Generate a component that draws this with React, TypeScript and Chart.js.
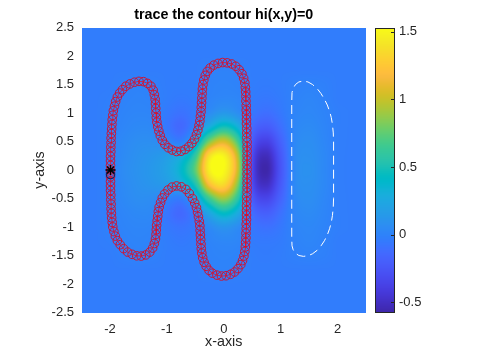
import React, { useEffect, useRef } from 'react';
import { Chart, registerables } from 'chart.js';

Chart.register(...registerables);

// ---------- data ----------
const heatX = [-2.5, -2.25, -2, -1.75, -1.5, -1.25, -1, -0.75, -0.5, -0.25, 0, 0.25, 0.5, 0.75, 1, 1.25, 1.5, 1.75, 2, 2.25, 2.5];
const heatY = [2.5, 2.25, 2, 1.75, 1.5, 1.25, 1, 0.75, 0.5, 0.25, 0, -0.25, -0.5, -0.75, -1, -1.25, -1.5, -1.75, -2, -2.25, -2.5];
const heatZ = [
  [-0.03, -0.03, -0.03, -0.03, -0.03, -0.03, -0.03, -0.03, -0.03, -0.03, -0.03, -0.03, -0.03, -0.03, -0.03, -0.03, -0.03, -0.03, -0.03, -0.03, -0.03],
  [-0.03, -0.03, -0.03, -0.03, -0.03, -0.03, -0.03, -0.03, -0.03, -0.03, -0.03, -0.03, -0.03, -0.03, -0.03, -0.03, -0.03, -0.03, -0.03, -0.03, -0.03],
  [-0.03, -0.03, -0.03, -0.03, -0.03, -0.03, -0.03, -0.03, -0.03, -0.03, -0.03, -0.03, -0.03, -0.03, -0.03, -0.03, -0.03, -0.03, -0.03, -0.03, -0.03],
  [-0.03, -0.03, -0.03, -0.03, -0.03, -0.03, -0.03, -0.03, -0.03, -0.01, 0.0, -0.01, -0.03, -0.03, -0.03, -0.03, -0.03, -0.03, -0.03, -0.03, -0.03],
  [-0.03, -0.03, -0.03, -0.01, 0.0, -0.01, -0.03, -0.03, -0.03, 0.0, 0.01, 0.0, -0.03, -0.04, -0.03, -0.01, 0.0, -0.01, -0.03, -0.03, -0.03],
  [-0.03, -0.03, -0.02, 0.0, 0.01, 0.0, -0.03, -0.05, -0.03, 0.01, 0.03, 0.02, -0.04, -0.06, -0.04, 0.0, 0.02, 0.0, -0.03, -0.03, -0.03],
  [-0.03, -0.03, -0.01, 0.01, 0.02, 0.01, -0.05, -0.09, -0.04, 0.06, 0.14, 0.07, -0.06, -0.11, -0.06, 0.01, 0.03, 0.01, -0.02, -0.03, -0.03],
  [-0.03, -0.03, -0.01, 0.02, 0.04, 0.03, -0.06, -0.14, 0.02, 0.3, 0.5, 0.32, -0.12, -0.22, -0.11, 0.02, 0.05, 0.02, -0.02, -0.03, -0.03],
  [-0.03, -0.03, 0.0, 0.04, 0.07, 0.07, 0.03, -0.02, 0.25, 0.82, 1.05, 0.66, -0.2, -0.38, -0.18, 0.03, 0.07, 0.03, -0.02, -0.03, -0.03],
  [-0.03, -0.03, 0.0, 0.05, 0.09, 0.12, 0.17, 0.28, 0.6, 1.38, 1.48, 0.95, -0.28, -0.52, -0.24, 0.04, 0.08, 0.04, -0.02, -0.03, -0.03],
  [-0.03, -0.03, 0.0, 0.06, 0.1, 0.14, 0.21, 0.38, 0.75, 1.47, 1.52, 1.0, -0.3, -0.57, -0.26, 0.04, 0.09, 0.04, -0.02, -0.03, -0.03],
  [-0.03, -0.03, 0.0, 0.05, 0.09, 0.12, 0.16, 0.26, 0.52, 1.2, 1.35, 0.82, -0.28, -0.5, -0.23, 0.04, 0.08, 0.04, -0.02, -0.03, -0.03],
  [-0.03, -0.03, 0.0, 0.04, 0.07, 0.06, 0.01, -0.03, 0.2, 0.65, 0.9, 0.56, -0.2, -0.35, -0.17, 0.03, 0.07, 0.03, -0.02, -0.03, -0.03],
  [-0.03, -0.03, -0.01, 0.02, 0.04, 0.03, -0.07, -0.14, 0.0, 0.25, 0.44, 0.27, -0.11, -0.2, -0.1, 0.02, 0.05, 0.02, -0.02, -0.03, -0.03],
  [-0.03, -0.03, -0.01, 0.01, 0.02, 0.01, -0.05, -0.08, -0.04, 0.05, 0.12, 0.06, -0.06, -0.1, -0.06, 0.01, 0.03, 0.01, -0.02, -0.03, -0.03],
  [-0.03, -0.03, -0.02, 0.0, 0.01, 0.0, -0.03, -0.05, -0.03, 0.01, 0.03, 0.02, -0.04, -0.05, -0.04, 0.0, 0.02, 0.0, -0.03, -0.03, -0.03],
  [-0.03, -0.03, -0.03, -0.01, 0.0, -0.01, -0.03, -0.03, -0.03, 0.0, 0.01, 0.0, -0.03, -0.04, -0.03, -0.01, 0.0, -0.01, -0.03, -0.03, -0.03],
  [-0.03, -0.03, -0.03, -0.03, -0.03, -0.03, -0.03, -0.03, -0.03, -0.01, 0.0, -0.01, -0.03, -0.03, -0.03, -0.03, -0.03, -0.03, -0.03, -0.03, -0.03],
  [-0.03, -0.03, -0.03, -0.03, -0.03, -0.03, -0.03, -0.03, -0.03, -0.03, -0.03, -0.03, -0.03, -0.03, -0.03, -0.03, -0.03, -0.03, -0.03, -0.03, -0.03],
  [-0.03, -0.03, -0.03, -0.03, -0.03, -0.03, -0.03, -0.03, -0.03, -0.03, -0.03, -0.03, -0.03, -0.03, -0.03, -0.03, -0.03, -0.03, -0.03, -0.03, -0.03],
  [-0.03, -0.03, -0.03, -0.03, -0.03, -0.03, -0.03, -0.03, -0.03, -0.03, -0.03, -0.03, -0.03, -0.03, -0.03, -0.03, -0.03, -0.03, -0.03, -0.03, -0.03],
];
const colorMin = -0.574;
const colorMax = 1.53;

const contourX = [
  -1.99, -1.99, -1.99, -1.99, -1.985, -1.985, -1.98, -1.98, -1.975, -1.97, -1.965, -1.96, -1.95, -1.94, -1.92, -1.9, -1.87, -1.83, -1.78, -1.72,
  -1.65, -1.57, -1.49, -1.41, -1.34, -1.28, -1.24, -1.22, -1.205, -1.2, -1.195, -1.19, -1.185, -1.175, -1.16, -1.14, -1.115, -1.08, -1.035, -0.975,
  -0.905, -0.83, -0.75, -0.68, -0.615, -0.56, -0.515, -0.48, -0.455, -0.435, -0.42, -0.41, -0.4, -0.395, -0.39, -0.385, -0.38, -0.375, -0.365, -0.35,
  -0.325, -0.29, -0.24, -0.175, -0.1, -0.02, 0.06, 0.14, 0.21, 0.27, 0.32, 0.35, 0.37, 0.38, 0.385, 0.39, 0.39, 0.395, 0.395, 0.4,
  0.4, 0.4, 0.405, 0.405, 0.405, 0.41, 0.41, 0.41, 0.41, 0.41, 0.41, 0.41,
  0.41, 0.41, 0.41, 0.41, 0.41, 0.405, 0.405, 0.4, 0.4, 0.4, 0.4, 0.395, 0.395, 0.39, 0.39, 0.385, 0.38, 0.37, 0.355, 0.33,
  0.3, 0.25, 0.19, 0.12, 0.04, -0.04, -0.12, -0.2, -0.26, -0.31, -0.345, -0.37, -0.385, -0.395, -0.4, -0.405, -0.41, -0.415, -0.42, -0.43,
  -0.445, -0.46, -0.48, -0.51, -0.55, -0.605, -0.665, -0.745, -0.83, -0.91, -0.98, -1.04, -1.08, -1.11, -1.135, -1.15, -1.16, -1.17, -1.18, -1.185,
  -1.19, -1.2, -1.22, -1.25, -1.3, -1.37, -1.45, -1.53, -1.61, -1.69, -1.76, -1.82, -1.87, -1.905, -1.93, -1.95, -1.96, -1.97, -1.975, -1.98,
  -1.98, -1.985, -1.985, -1.99, -1.99, -1.99, -1.99, -1.99,
];
const contourY = [
  0.0, 0.08, 0.16, 0.24, 0.32, 0.4, 0.48, 0.56, 0.64, 0.72, 0.8, 0.88, 0.96, 1.04, 1.12, 1.2, 1.28, 1.35, 1.41, 1.47,
  1.51, 1.54, 1.555, 1.55, 1.52, 1.47, 1.4, 1.32, 1.24, 1.16, 1.08, 1.0, 0.92, 0.84, 0.76, 0.68, 0.6, 0.52, 0.45, 0.39,
  0.35, 0.325, 0.33, 0.36, 0.41, 0.47, 0.54, 0.62, 0.7, 0.78, 0.86, 0.94, 1.02, 1.1, 1.18, 1.26, 1.34, 1.42, 1.5, 1.58,
  1.66, 1.73, 1.79, 1.84, 1.87, 1.885, 1.88, 1.86, 1.82, 1.76, 1.69, 1.61, 1.53, 1.45, 1.37, 1.29, 1.21, 1.13, 1.05, 0.97,
  0.89, 0.81, 0.73, 0.65, 0.57, 0.49, 0.41, 0.33, 0.25, 0.17, 0.09, 0.01,
  -0.07, -0.15, -0.23, -0.31, -0.39, -0.47, -0.55, -0.63, -0.71, -0.79, -0.87, -0.95, -1.03, -1.11, -1.19, -1.27, -1.35, -1.43, -1.51, -1.59,
  -1.66, -1.73, -1.79, -1.83, -1.855, -1.86, -1.845, -1.81, -1.76, -1.69, -1.62, -1.54, -1.46, -1.38, -1.3, -1.22, -1.14, -1.06, -0.98, -0.9,
  -0.82, -0.74, -0.66, -0.58, -0.5, -0.41, -0.34, -0.295, -0.28, -0.3, -0.35, -0.42, -0.49, -0.57, -0.65, -0.73, -0.81, -0.89, -0.97, -1.05,
  -1.13, -1.21, -1.29, -1.37, -1.44, -1.49, -1.51, -1.505, -1.48, -1.44, -1.38, -1.31, -1.24, -1.16, -1.08, -1.0, -0.92, -0.84, -0.76, -0.68,
  -0.6, -0.52, -0.44, -0.36, -0.28, -0.2, -0.12, -0.04,
];

const dashX = [
  1.195, 1.195, 1.2, 1.22, 1.26, 1.32, 1.4, 1.48, 1.56, 1.64, 1.71, 1.77, 1.82, 1.86, 1.89, 1.91, 1.925, 1.93, 1.93, 1.93,
  1.925, 1.91, 1.89, 1.86, 1.82, 1.77, 1.71, 1.64, 1.56, 1.48, 1.4, 1.32, 1.26, 1.22, 1.2, 1.195, 1.195,
];
const dashY = [
  0.0, 1.2, 1.36, 1.43, 1.5, 1.545, 1.56, 1.545, 1.5, 1.43, 1.34, 1.24, 1.14, 1.03, 0.92, 0.8, 0.65, 0.5, 0.0, -0.5,
  -0.65, -0.8, -0.92, -1.03, -1.14, -1.24, -1.33, -1.41, -1.47, -1.505, -1.515, -1.5, -1.46, -1.4, -1.33, -1.2, 0.0,
];

const startPoint = { x: -1.99, y: 0.0 };
const endPoint = { x: -1.99, y: -0.08 };

const xTickValues = [-2, -1, 0, 1, 2];
const xTickLabels = ['-2', '-1', '0', '1', '2'];
const yTickValues = [-2.5, -2, -1.5, -1, -0.5, 0, 0.5, 1, 1.5, 2, 2.5];
const yTickLabels = ['-2.5', '-2', '-1.5', '-1', '-0.5', '0', '0.5', '1', '1.5', '2', '2.5'];
const cbTickValues = [-0.5, 0, 0.5, 1, 1.5];
const cbTickLabels = ['-0.5', '0', '0.5', '1', '1.5'];

const titleText = 'trace the contour hi(x,y)=0';
const xTitle = 'x-axis';
const yTitle = 'y-axis';

// ---------- style ----------
const PARULA = [
  [0.2422, 0.1504, 0.6603], [0.2504, 0.165, 0.7076], [0.2578, 0.1818, 0.7511], [0.2647, 0.1978, 0.7952],
  [0.2706, 0.2147, 0.8364], [0.2751, 0.2342, 0.871], [0.2783, 0.2559, 0.8991], [0.2803, 0.2782, 0.9221],
  [0.2813, 0.3006, 0.9414], [0.281, 0.3228, 0.9579], [0.2795, 0.3447, 0.9717], [0.276, 0.3667, 0.9829],
  [0.2699, 0.3892, 0.9906], [0.2602, 0.4123, 0.9952], [0.244, 0.4358, 0.9988], [0.2206, 0.4603, 0.9973],
  [0.1963, 0.4847, 0.9892], [0.1834, 0.5074, 0.9798], [0.1786, 0.5289, 0.9682], [0.1764, 0.5499, 0.952],
  [0.1687, 0.5703, 0.9359], [0.154, 0.5902, 0.9218], [0.146, 0.6091, 0.9079], [0.138, 0.6276, 0.8973],
  [0.1248, 0.6459, 0.8883], [0.1113, 0.6635, 0.8763], [0.0952, 0.6798, 0.8598], [0.0689, 0.6948, 0.8394],
  [0.0297, 0.7082, 0.8163], [0.0036, 0.7203, 0.7917], [0.0067, 0.7312, 0.766], [0.0433, 0.7411, 0.7394],
  [0.0964, 0.75, 0.712], [0.1408, 0.7584, 0.6842], [0.1717, 0.767, 0.6554], [0.1938, 0.7758, 0.6251],
  [0.2161, 0.7843, 0.5923], [0.247, 0.7918, 0.5567], [0.2906, 0.7973, 0.5188], [0.3406, 0.8008, 0.4789],
  [0.3909, 0.8029, 0.4354], [0.4456, 0.8024, 0.3909], [0.5044, 0.7993, 0.348], [0.5616, 0.7942, 0.3045],
  [0.6174, 0.7876, 0.2612], [0.672, 0.7793, 0.2227], [0.7242, 0.7698, 0.191], [0.7738, 0.7598, 0.1646],
  [0.8203, 0.7498, 0.1535], [0.8634, 0.7406, 0.1596], [0.9035, 0.733, 0.1774], [0.9393, 0.7288, 0.21],
  [0.9728, 0.7298, 0.2394], [0.9956, 0.7434, 0.2371], [0.997, 0.7659, 0.2199], [0.9952, 0.7893, 0.2028],
  [0.9892, 0.8136, 0.1885], [0.9786, 0.8386, 0.1766], [0.9676, 0.8639, 0.1643], [0.961, 0.889, 0.1537],
  [0.9597, 0.9135, 0.1423], [0.9628, 0.9373, 0.1265], [0.9691, 0.9606, 0.1064], [0.9769, 0.9839, 0.0805],
];

const FONT = "'Liberation Sans', Arial, Helvetica, sans-serif";
const TEXT = '#262626';

function parula(v: number): [number, number, number] {
  let t = (v - colorMin) / (colorMax - colorMin);
  t = Math.max(0, Math.min(1, t));
  const f = t * (PARULA.length - 1);
  const i = Math.min(PARULA.length - 2, Math.floor(f));
  const w = f - i;
  const a = PARULA[i], b = PARULA[i + 1];
  return [
    Math.round(255 * (a[0] + (b[0] - a[0]) * w)),
    Math.round(255 * (a[1] + (b[1] - a[1]) * w)),
    Math.round(255 * (a[2] + (b[2] - a[2]) * w)),
  ];
}

function cr(p0: number, p1: number, p2: number, p3: number, t: number) {
  return p1 + 0.5 * t * (p2 - p0 + t * (2 * p0 - 5 * p1 + 4 * p2 - p3 + t * (3 * (p1 - p2) + p3 - p0)));
}

function sampleGrid(u: number, v: number) {
  const nC = heatX.length, nR = heatY.length;
  const i = Math.floor(u), j = Math.floor(v);
  const tu = u - i, tv = v - j;
  const g = (r: number, c: number) =>
    heatZ[Math.min(nR - 1, Math.max(0, r))][Math.min(nC - 1, Math.max(0, c))];
  const row = (r: number) => cr(g(r, i - 1), g(r, i), g(r, i + 1), g(r, i + 2), tu);
  return cr(row(j - 1), row(j), row(j + 1), row(j + 2), tv);
}

const heatmapPlugin = {
  id: 'heatmap',
  beforeDatasetsDraw(chart: any) {
    const { ctx, scales } = chart;
    const sx = scales.x, sy = scales.y;
    const px0 = Math.round(sx.getPixelForValue(heatX[0]));
    const px1 = Math.round(sx.getPixelForValue(heatX[heatX.length - 1]));
    const py0 = Math.round(sy.getPixelForValue(heatY[0]));
    const py1 = Math.round(sy.getPixelForValue(heatY[heatY.length - 1]));
    const w = px1 - px0, h = py1 - py0;
    const off = document.createElement('canvas');
    off.width = w; off.height = h;
    const octx = off.getContext('2d')!;
    const img = octx.createImageData(w, h);
    const dx = heatX[1] - heatX[0];
    const dy = heatY[0] - heatY[1];
    for (let r = 0; r < h; r++) {
      const yv = sy.getValueForPixel(py0 + r + 0.5);
      const v = (heatY[0] - yv) / dy;
      for (let c = 0; c < w; c++) {
        const xv = sx.getValueForPixel(px0 + c + 0.5);
        const u = (xv - heatX[0]) / dx;
        const val = sampleGrid(u, v);
        const [R, G, B] = parula(val);
        const k = (r * w + c) * 4;
        img.data[k] = R; img.data[k + 1] = G; img.data[k + 2] = B; img.data[k + 3] = 255;
      }
    }
    octx.putImageData(img, 0, 0);
    ctx.drawImage(off, px0, py0);
  },
};

const colorbarPlugin = {
  id: 'colorbar',
  afterDraw(chart: any) {
    const { ctx, chartArea, scales } = chart;
    const cb = scales.cb;
    const left = Math.round(chartArea.right + 9);
    const width = 20;
    const top = Math.round(cb.getPixelForValue(colorMax));
    const bottom = Math.round(cb.getPixelForValue(colorMin));
    for (let y = top; y < bottom; y++) {
      const val = cb.getValueForPixel(y + 0.5);
      const [R, G, B] = parula(val);
      ctx.fillStyle = `rgb(${R},${G},${B})`;
      ctx.fillRect(left, y, width, 1);
    }
    ctx.save();
    ctx.strokeStyle = TEXT;
    ctx.lineWidth = 1;
    ctx.strokeRect(left + 0.5, top + 0.5, width - 1, bottom - top - 1);
    ctx.beginPath();
    for (const t of cbTickValues) {
      const y = Math.round(cb.getPixelForValue(t)) + 0.5;
      ctx.moveTo(left + width - 1, y);
      ctx.lineTo(left + width - 4, y);
    }
    ctx.stroke();
    ctx.restore();
  },
};

const noPad = (s: any) => {
  s.paddingTop = 0;
  s.paddingBottom = 0;
  s.paddingLeft = 0;
  s.paddingRight = 0;
};

export default function App() {
  const ref = useRef<HTMLCanvasElement>(null);
  useEffect(() => {
    document.body.style.margin = '0';
    const canvas = ref.current!;
    const contour = contourX.map((x, i) => ({ x, y: contourY[i] }));
    const dash = dashX.map((x, i) => ({ x, y: dashY[i] }));
    const chart = new Chart(canvas, {
      type: 'scatter',
      data: {
        datasets: [
          {
            label: 'start',
            data: [startPoint],
            pointStyle: 'star',
            pointRadius: 5,
            pointBorderColor: '#000000',
            pointBorderWidth: 1.3,
            showLine: false,
          },
          {
            label: 'end',
            data: [endPoint],
            pointStyle: 'circle',
            pointRadius: 4.2,
            pointBorderColor: '#1c1f5e',
            pointBackgroundColor: 'rgba(0,0,0,0)',
            pointBorderWidth: 1.2,
            showLine: false,
          },
          {
            label: 'trace',
            data: contour,
            showLine: true,
            borderColor: '#e3122c',
            borderWidth: 0.8,
            pointStyle: 'circle',
            pointRadius: 4.3,
            pointBorderColor: '#cf1434',
            pointBackgroundColor: 'rgba(0,0,0,0)',
            pointBorderWidth: 1,
          },
          {
            label: 'zero',
            data: dash,
            showLine: true,
            borderColor: '#ffffff',
            borderWidth: 1,
            borderDash: [9, 5],
            pointRadius: 0,
          },
        ],
      } as any,
      options: {
        responsive: false,
        animation: false,
        devicePixelRatio: 1,
        events: [],
        layout: { padding: 0, autoPadding: false },
        font: { family: FONT } as any,
        plugins: {
          legend: { display: false },
          tooltip: { enabled: false },
          title: {
            display: true,
            text: titleText,
            fullSize: false,
            color: '#000000',
            font: { family: FONT, size: 14.3, weight: 'bold' },
            padding: { top: 6.4, bottom: 3.94 },
          },
        },
        scales: {
          x: {
            type: 'linear',
            min: -2.5,
            max: 2.5,
            grid: { display: false, drawTicks: false },
            border: { display: false },
            afterBuildTicks: (s: any) => { s.ticks = xTickValues.map((v) => ({ value: v })); },
            afterFit: (s: any) => { s.height = 42.5; noPad(s); },
            ticks: {
              padding: 9,
              color: TEXT,
              font: { family: FONT, size: 13 },
              callback: (v: any) => xTickLabels[xTickValues.indexOf(Number(v))] ?? String(v),
            },
            title: {
              display: true,
              text: xTitle,
              color: TEXT,
              font: { family: FONT, size: 14.3 },
              padding: { top: 0, bottom: 4.4 },
            },
          },
          y: {
            type: 'linear',
            min: -2.5,
            max: 2.5,
            grid: { display: false, drawTicks: false },
            border: { display: false },
            afterBuildTicks: (s: any) => { s.ticks = yTickValues.map((v) => ({ value: v })); },
            afterFit: (s: any) => { s.width = 81.5; noPad(s); },
            ticks: {
              padding: 7.5,
              color: TEXT,
              font: { family: FONT, size: 13 },
              callback: (v: any) => yTickLabels[yTickValues.indexOf(Number(v))] ?? String(v),
            },
            title: {
              display: true,
              text: yTitle,
              color: TEXT,
              font: { family: FONT, size: 14.3 },
              padding: { top: 31.4, bottom: 0 },
            },
          },
          cb: {
            type: 'linear',
            position: 'right',
            min: colorMin,
            max: colorMax,
            grid: { display: false, drawTicks: false },
            border: { display: false },
            afterBuildTicks: (s: any) => { s.ticks = cbTickValues.map((v) => ({ value: v })); },
            afterFit: (s: any) => { s.width = 124; noPad(s); },
            ticks: {
              padding: 33,
              color: TEXT,
              font: { family: FONT, size: 13 },
              callback: (v: any) => cbTickLabels[cbTickValues.indexOf(Number(v))] ?? String(v),
            },
          },
        },
      } as any,
      plugins: [heatmapPlugin, colorbarPlugin],
    });
    return () => chart.destroy();
  }, []);
  return (
    <canvas
      ref={ref}
      width={490}
      height={355}
      style={{ display: 'block', width: '490px', height: '355px', background: '#ffffff' }}
    />
  );
}
